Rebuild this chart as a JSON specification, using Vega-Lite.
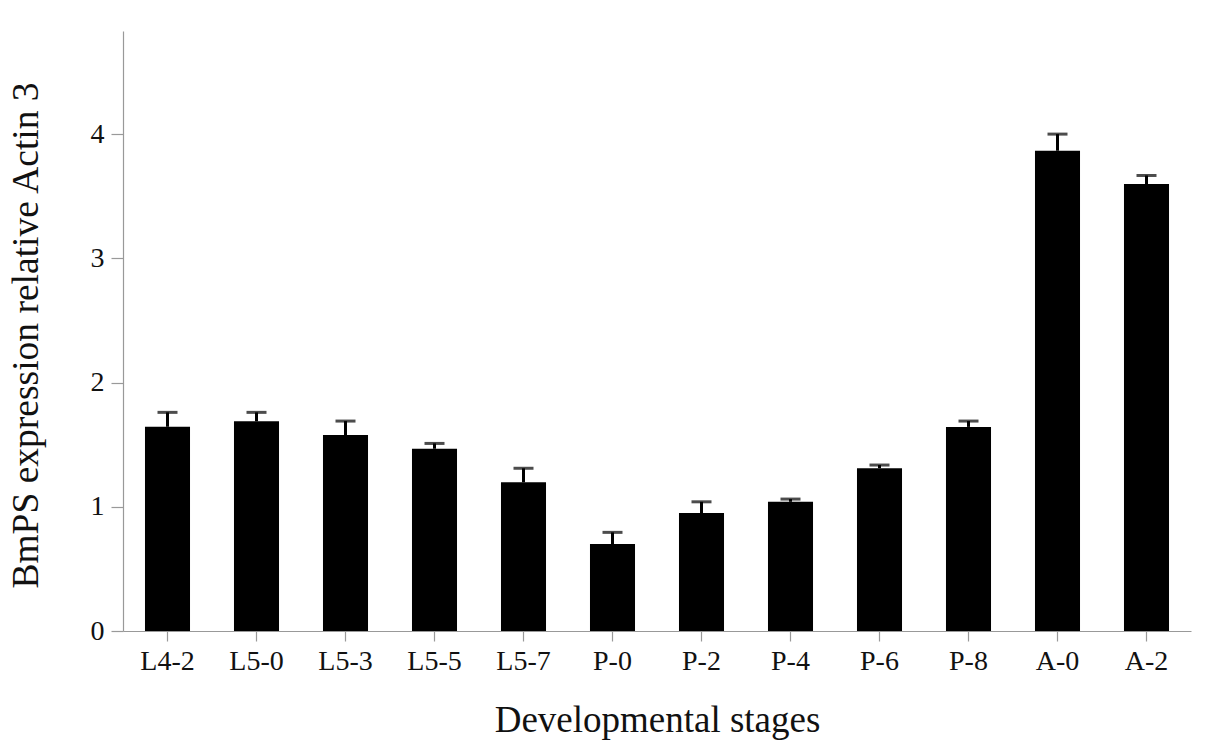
{
  "$schema": "https://vega.github.io/schema/vega-lite/v6.json",
  "width": 1068,
  "height": 600,
  "autosize": {"type": "none"},
  "padding": {"left": 123, "top": 31, "right": 14, "bottom": 125},
  "background": "white",
  "config": {
    "view": {"stroke": null},
    "font": "Liberation Serif",
    "axis": {"grid": false, "domainColor": "#999999", "tickColor": "#999999", "domainWidth": 1.2, "tickWidth": 1.2, "labelColor": "#111111", "titleColor": "#111111", "labelFont": "Liberation Serif", "titleFont": "Liberation Serif", "titleFontWeight": "normal"}
  },
  "data": {
    "values": [
      {"stage": "L4-2", "value": 1.644, "upper": 1.76},
      {"stage": "L5-0", "value": 1.688, "upper": 1.76},
      {"stage": "L5-3", "value": 1.577, "upper": 1.69},
      {"stage": "L5-5", "value": 1.467, "upper": 1.51},
      {"stage": "L5-7", "value": 1.197, "upper": 1.31},
      {"stage": "P-0", "value": 0.70, "upper": 0.794},
      {"stage": "P-2", "value": 0.95, "upper": 1.04},
      {"stage": "P-4", "value": 1.04, "upper": 1.062},
      {"stage": "P-6", "value": 1.31, "upper": 1.336},
      {"stage": "P-8", "value": 1.643, "upper": 1.69},
      {"stage": "A-0", "value": 3.866, "upper": 4.0},
      {"stage": "A-2", "value": 3.598, "upper": 3.667}
    ]
  },
  "encoding": {
    "x": {
      "field": "stage", "type": "nominal", "sort": null,
      "scale": {"paddingInner": 0.494, "paddingOuter": 0.247},
      "axis": {"title": "Developmental stages", "labelAngle": 0, "labelFontSize": 28, "labelPadding": 6, "tickSize": 10, "titleFontSize": 37, "titleX": 534, "titleY": 89, "titleBaseline": "middle", "titleAlign": "center"}
    }
  },
  "layer": [
    {
      "mark": {"type": "bar", "color": "#000000"},
      "encoding": {
        "y": {
          "field": "value", "type": "quantitative",
          "scale": {"domain": [0, 4.83], "nice": false},
          "axis": {"title": "BmPS expression relative Actin 3", "values": [0, 1, 2, 3, 4], "format": "d", "labelFontSize": 28, "labelPadding": 7, "tickSize": 12, "titleFontSize": 37.5, "titleX": -97, "titleY": 304, "titleAngle": 270, "titleBaseline": "middle", "titleAlign": "center"}
        }
      }
    },
    {
      "mark": {"type": "rule", "color": "#000000", "strokeWidth": 3},
      "encoding": {
        "y": {"field": "value", "type": "quantitative"},
        "y2": {"field": "upper"}
      }
    },
    {
      "mark": {"type": "tick", "color": "#000000", "thickness": 3, "size": 20},
      "encoding": {
        "y": {"field": "upper", "type": "quantitative"}
      }
    }
  ]
}
